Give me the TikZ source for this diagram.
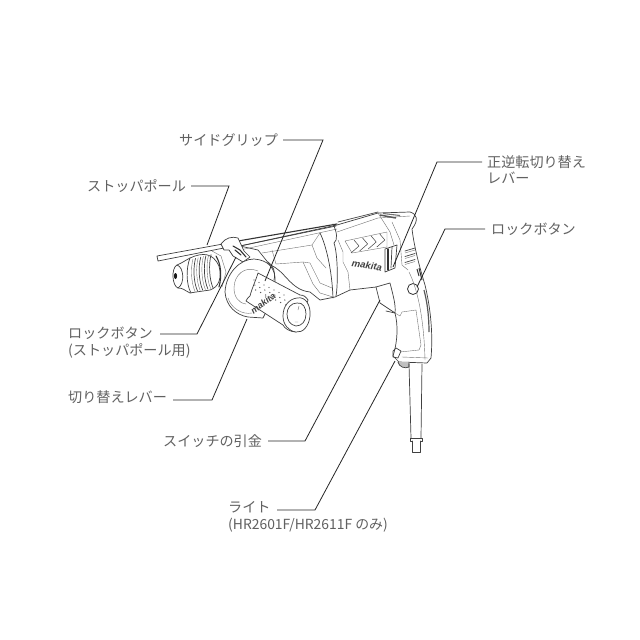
\documentclass[tikz,border=0pt]{standalone}
\usepackage{fontspec}
\newfontfamily\jp{Noto Sans CJK JP}
\newfontfamily\logo{Liberation Sans}
\begin{document}
\begin{tikzpicture}[x=1pt,y=-1pt,
  lab/.style={inner sep=0pt,anchor=west,font=\jp\fontsize{14.1}{16}\selectfont,text=black!62},
  leader/.style={line width=0.8pt,draw=black!85},
  dl/.style={line width=0.7pt,draw=black!75,line join=round,line cap=round},
  fl/.style={line width=0.4pt,draw=black!55,line join=round,line cap=round},
  th/.style={line width=1.1pt,draw=black!80,line join=round,line cap=round},
  mk/.style={inner sep=0pt,text=black!75}]
\useasboundingbox (0,0) rectangle (640,640);
\fill[white] (0,0) rectangle (640,640);

% --- pole
\draw[dl,fill=white] (157,256) -- (223,244) -- (224,248) -- (158,261) -- cycle;
% --- chuck
\draw[dl,fill=white] (190,258) .. controls (203,252) and (213,253) .. (219,266) .. controls (222,278) and (219,287) .. (210,290) -- (196,292) -- (190,293) .. controls (184,290) and (183,288) .. (178,288) .. controls (172,286) and (171,268) .. (177,265) .. controls (182,263) and (186,260) .. (190,258) -- cycle;
\draw[dl] (177,265) .. controls (184,267) and (185,284) .. (178,288);
\fill[black!90] (175.5,276) ellipse (1.6 and 3);
\draw[dl] (190,258) .. controls (186,268) and (186,284) .. (191,293);
\foreach \u in {0,1,2,3}{
  \draw[fl] ({193+5.2*\u},{259-1.3*\u}) .. controls ({190.5+5.2*\u},{268-1.3*\u}) and ({191+5.2*\u},{282-1*\u}) .. ({195+5.2*\u},{291.5-1*\u});
  \draw[dl] ({195.5+5.2*\u},{258.5-1.3*\u}) .. controls ({193+5.2*\u},{268-1.3*\u}) and ({193.5+5.2*\u},{282-1*\u}) .. ({197.5+5.2*\u},{291-1*\u});
}
\draw[th] (216,256) .. controls (221,264) and (222,276) .. (219,287);
\draw[fl] (212,251) -- (221,256) -- (226,272) -- (222,287);
% --- body top
\draw[dl,fill=white] (240,246) -- (337,225) -- (378,213) -- (410,212) .. controls (417,214) and (419,220) .. (412,229) .. controls (414,245) and (418,262) .. (425,285) .. controls (431,310) and (433,335) .. (431,358) -- (427,363) -- (399,362) -- (393,356) .. controls (398,340) and (398,325) .. (395,313) -- (380,303) -- (376,287) -- (350,290) -- (335,297) -- (320,300) -- (310,292) .. controls (290,290) and (285,270) .. (270,265) -- (258,250) -- cycle;
% rod along body
\draw[th] (238,241) -- (337,224);
\draw[dl] (240,246) -- (336,226);
\draw[dl] (338,222) -- (378,212);
\draw[fl] (240,250) -- (337,229);
\draw[fl] (337,232) -- (378,218) -- (410,216);
% front casing
\draw[fl] (262,253) -- (312,245) -- (320,233);
\draw[dl] (320,233) .. controls (326,245) and (332,270) .. (333,298);
\draw[dl] (333,224) .. controls (337,232) and (338,240) .. (334,243) .. controls (338,255) and (338,285) .. (336,296);
\draw[fl] (272,250) -- (276,264) -- (303,262) -- (313,284) -- (320,293) -- (333,297);
\draw[fl] (303,262) -- (310,263) -- (320,283) -- (332,288);
\draw[fl] (312,245) -- (317,258) -- (326,268);
% rear casing panel
\draw[fl] (345,241) -- (387,232) -- (387,247) -- (352,253) -- cycle;
\draw[fl] (338,240) -- (343,252) -- (343,262) -- (348,272) -- (350,290);
% chevrons
\foreach \q in {0,1,2,3}{
  \draw[line width=.55pt,black!70,line join=round] ({354+8.6*\q},{240-2*\q}) -- ({359+8.6*\q},{246-2*\q}) -- ({351+8.6*\q},{253-2*\q});
}
% logo on body
\node[mk,font=\logo\bfseries\itshape\fontsize{9.6}{10}\selectfont,rotate=-9] (logoD) at (367,265.5) {makita};
% lever slot
\draw[dl] (385,249) -- (397,245) -- (395,268) -- (385,272) -- cycle;
\draw[th] (388,249) -- (388,270);
\draw[dl] (392,247) -- (391,268);
\draw[fl] (390,232) -- (394,245) (392,222) -- (400,240) -- (402,265) -- (408,270);
\draw[fl] (378,213) -- (390,232);
\draw[line width=1.5pt,black!65] (380,215) -- (396,218);
\draw[line width=1.1pt,black!55] (383,213.5) -- (400,215.5);
% vents
\foreach \a/\b in {0/0,1/0.5,2/1.5}{
  \draw[dl] ({405},{251+5*\a+\b}) -- ({415},{248+5*\a+\b});
  \draw[fl] ({405},{253+5*\a+\b}) -- ({415},{250+5*\a+\b});
}
\draw[line width=1pt,black!80] (417,269) -- (419,276) (419,268) -- (422,280);
% lock button
\node[circle,draw=black!80,line width=0.8pt,inner sep=0pt,minimum size=11pt,fill=white] (lockbtn) at (413,289) {};
% rear stripe
\draw[fl] (409,272) .. controls (418,290) and (424,320) .. (425,360);
\draw[line width=1.2pt,black!65] (424,290) .. controls (428,305) and (429,320) .. (429,332);
% trigger and handle details
\draw[dl] (376,287) -- (390,283) .. controls (393,295) and (396,305) .. (395,313);
\draw[dl] (386,311) -- (395,313);
\draw[fl] (395,313) -- (400,316) -- (402,312) -- (416,310) -- (421,345) -- (419,350) -- (400,352);
\draw[fl] (402,357) -- (428,358);
% light
\draw[dl] (393,351) -- (396,348) -- (401,351) -- (398,358) -- (393,357) -- cycle;
\draw[dl,fill=black!25] (398,362) .. controls (399,367) and (405,369) .. (409,367) -- (409,362);
% cord
\draw[dl] (409,364) -- (411,438) (422,364) -- (421,438);
\draw[dl,fill=white] (410,438) -- (422,438) -- (422,441) -- (410,441) -- cycle;
\draw[dl,fill=white] (412,441) -- (412,452) -- (420,452) -- (420,441);
% clamp
\draw[dl,fill=white] (221,244) .. controls (225,238) and (232,236) .. (238,238) -- (244,251) -- (250,257) -- (243,262) -- (233,256) -- (229,250) -- (224,250) -- cycle;
\draw[th] (233,246) -- (240,250) -- (246,257);
\draw[th] (235,250) -- (241,255);
% side grip guard
\draw[dl,fill=white] (225,292) .. controls (226,273) and (240,259) .. (254,259) .. controls (268,260) and (276,268) .. (275,282) -- (272,300) -- (263,318) -- (248,317) .. controls (236,315) and (226,306) .. (225,292) -- cycle;
\draw[fl] (228,298) .. controls (231,308) and (242,315) .. (252,313);
\draw[dl] (268,262) .. controls (273,265) and (276,272) .. (274,280);
% inner disc
\draw[fl,fill=white] (258,271) .. controls (245,265) and (234,275) .. (234,288) .. controls (234,296) and (238,303) .. (246,304);
% grip
\draw[dl,fill=white] (258,273) -- (300,295) .. controls (304,295) and (306,297) .. (308,300) -- (296,332) .. controls (290,332) and (284,328) .. (283,325) -- (246,301) .. controls (246,298) and (249,298) .. (250,296) .. controls (252,288) and (256,280) .. (258,273) -- cycle;
\draw[dl,fill=white] (297,298) .. controls (306,296) and (311,306) .. (310,316) .. controls (309,326) and (303,333) .. (296,332) .. controls (288,331) and (283,324) .. (283,316) .. controls (283,306) and (289,299) .. (297,298) -- cycle;
\draw[dl,fill=white] (297,303) .. controls (303,302) and (306,308) .. (306,314) .. controls (306,321) and (302,326) .. (296,326) .. controls (290,325) and (287,320) .. (287,314) .. controls (287,308) and (291,303) .. (297,303) -- cycle;
\draw[fl] (299,306) -- (298,310) (295,322) -- (298,322);
% dots
\foreach \r in {0,1,2}{
  \foreach \c in {0,...,6}{
    \fill[black!65] ({254+\c*5+\r*0.8},{280+\c*2.5+\r*5}) circle (0.7);
  }
}
% grip logo
\node[mk,font=\logo\bfseries\itshape\fontsize{9}{10}\selectfont,rotate=37] (logoC) at (263,303.5) {makita};

% --- labels
\node[lab] (sg) at (179,140) {サイドグリップ};
\node[lab] (sb) at (87,186) {ストッパポール};
\node[lab] (lk) at (68,333) {ロックボタン};
\node[lab] (lkb) at (68,351) {(ストッパポール用)};
\node[lab] (kl) at (68,397) {切り替えレバー};
\node[lab] (tr) at (163,441) {スイッチの引金};
\node[lab] (lt) at (228,507) {ライト};
\node[lab,font=\jp\fontsize{13.9}{16}\selectfont] (ltb) at (228,525) {(HR2601F/HR2611F のみ)};
\node[lab] (rv) at (487,162) {正逆転切り替え};
\node[lab] (rvb) at (487,178) {レバー};
\node[lab] (lr) at (491,229) {ロックボタン};

\coordinate (sgA) at (283,140); \coordinate (sgB) at (323,140); \coordinate (sgC) at (265,281);
\coordinate (sbA) at (191,186); \coordinate (sbB) at (229,186); \coordinate (sbC) at (207,245);
\coordinate (lkA) at (160,334); \coordinate (lkB) at (197,334); \coordinate (lkC) at (236,257);
\coordinate (klA) at (173,400); \coordinate (klB) at (212,400); \coordinate (klC) at (247,319);
\coordinate (trA) at (268,441); \coordinate (trB) at (305,441); \coordinate (trC) at (380,300);
\coordinate (ltA) at (277,510); \coordinate (ltB) at (315,510); \coordinate (ltC) at (395,361);
\coordinate (rvA) at (482,162); \coordinate (rvB) at (437,162); \coordinate (rvC) at (393,267);
\coordinate (lrA) at (485,229); \coordinate (lrB) at (445,229); \coordinate (lrC) at (417,287);
\foreach \n in {sg,sb,lk,kl,tr,lt,rv,lr}{\draw[leader] (\n A) -- (\n B) -- (\n C);}
\end{tikzpicture}
\end{document}
